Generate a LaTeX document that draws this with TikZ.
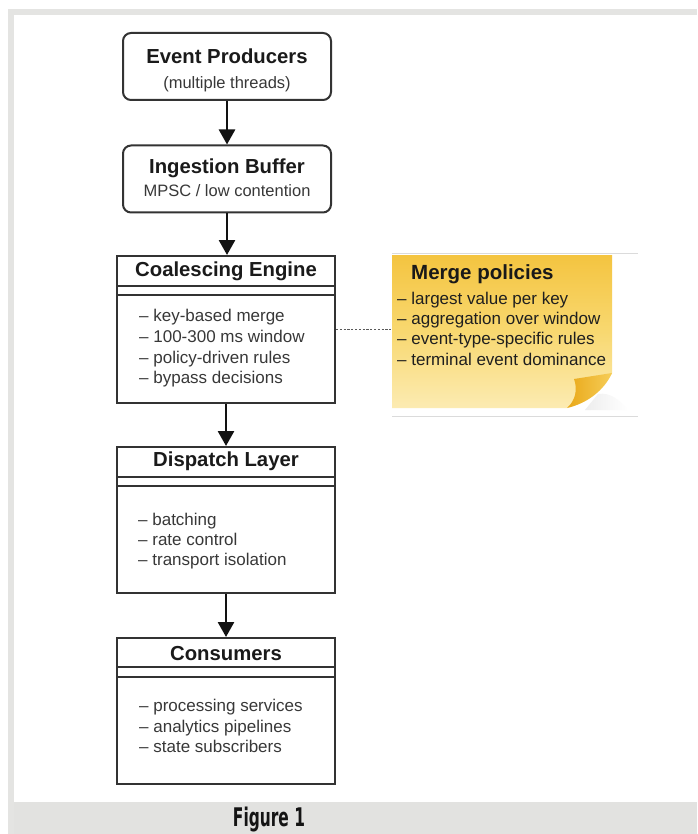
\documentclass[tikz,border=0pt]{standalone}
\usepackage{fontspec}
\setmainfont{Liberation Sans}
\newfontfamily\capfont{DejaVu Sans Condensed}
\usetikzlibrary{arrows.meta}
\definecolor{framegray}{HTML}{E4E4E2}
\definecolor{capgray}{HTML}{E2E2E0}
\definecolor{boxline}{HTML}{333333}
\definecolor{titlecol}{HTML}{1A1A1A}
\definecolor{bodycol}{HTML}{383838}
\definecolor{notetop}{HTML}{F4C440}
\definecolor{notemid}{HTML}{F8D870}
\definecolor{notebot}{HTML}{FCEBB2}
\definecolor{folddark}{HTML}{E9A818}
\definecolor{foldlight}{HTML}{F6CD58}
\tikzset{
  rbox/.style={draw=boxline, line width=2pt, rounded corners=8pt, fill=white, minimum width=208pt, minimum height=67pt, inner sep=0pt},
  sbox/.style={draw=boxline, line width=2pt, fill=white, minimum width=218pt, inner sep=0pt},
  sepline/.style={draw=boxline, line width=1.8pt},
  titletxt/.style={font=\fontsize{20.3}{22}\selectfont\bfseries, text=titlecol, inner sep=0pt, anchor=base},
  subtxt/.style={font=\fontsize{16.5}{18}\selectfont, text=bodycol, inner sep=0pt, anchor=base},
  itemtxt/.style={font=\fontsize{17}{19}\selectfont, text=bodycol, inner sep=0pt, anchor=base west},
  notetitle/.style={font=\fontsize{20.5}{22}\selectfont\bfseries, text=black!90, inner sep=0pt, anchor=base west},
  noteitem/.style={font=\fontsize{17}{19}\selectfont, text=black!88, inner sep=0pt, anchor=base west},
  flowarrow/.style={draw=black!93, line width=2.7pt, -{Triangle[length=15pt,width=16pt]}},
  dotlink/.style={draw=black!65, line width=1.1pt, dash pattern=on 2.2pt off 1.6pt}
}
\begin{document}
\begin{tikzpicture}[x=1pt,y=-1pt]
\useasboundingbox (0,0) rectangle (697,834);
\clip (0,0) rectangle (697,834);
% frame
\fill[white] (0,0) rectangle (697,834);
\fill[framegray] (8,9) rectangle (697,834);
\fill[white] (14,15) rectangle (697,802);
\fill[capgray] (14,802) rectangle (697,834);

% boxes
\node[rbox] (ep) at (227,66.5) {};
\node[titletxt] (ept) at (227,63.3) {Event Producers};
\node[subtxt] (eps) at (227,88.3) {(multiple threads)};

\node[rbox] (ib) at (227,179) {};
\node[titletxt] (ibt) at (227,174) {Ingestion Buffer};
\node[subtxt] (ibs) at (227,196.7) {MPSC / low contention};

\node[sbox, minimum height=147pt] (ce) at (226,329.5) {};
\draw[sepline] ([yshift=-31pt]ce.north west) -- ([yshift=-31pt]ce.north east);
\draw[sepline] ([yshift=-40pt]ce.north west) -- ([yshift=-40pt]ce.north east);
\node[titletxt] (cet) at (226,276) {Coalescing Engine};
\node[itemtxt] (ce1) at (139,321.5) {\textendash\ key-based merge};
\node[itemtxt] (ce2) at (139,342.2) {\textendash\ 100-300 ms window};
\node[itemtxt] (ce3) at (139,363) {\textendash\ policy-driven rules};
\node[itemtxt] (ce4) at (139,383.8) {\textendash\ bypass decisions};

\node[sbox, minimum height=146pt] (dl) at (226,520) {};
\draw[sepline] ([yshift=-31pt]dl.north west) -- ([yshift=-31pt]dl.north east);
\draw[sepline] ([yshift=-40pt]dl.north west) -- ([yshift=-40pt]dl.north east);
\node[titletxt] (dlt) at (226,466.7) {Dispatch Layer};
\node[itemtxt] (dl1) at (138,525) {\textendash\ batching};
\node[itemtxt] (dl2) at (138,545) {\textendash\ rate control};
\node[itemtxt] (dl3) at (138,565.5) {\textendash\ transport isolation};

\node[sbox, minimum height=146pt] (cs) at (226,711) {};
\draw[sepline] ([yshift=-30pt]cs.north west) -- ([yshift=-30pt]cs.north east);
\draw[sepline] ([yshift=-40pt]cs.north west) -- ([yshift=-40pt]cs.north east);
\node[titletxt] (cst) at (226,660.7) {Consumers};
\node[itemtxt] (cs1) at (139,711.7) {\textendash\ processing services};
\node[itemtxt] (cs2) at (139,732.2) {\textendash\ analytics pipelines};
\node[itemtxt] (cs3) at (139,752.7) {\textendash\ state subscribers};

% arrows
\draw[flowarrow] (ep.south) -- (ib.north);
\draw[flowarrow] (ib.south) -- (ib.south |- ce.north);
\draw[flowarrow] (ce.south) -- (dl.north);
\draw[flowarrow] (dl.south) -- (cs.north);

% sticky note
\draw[black!14, line width=0.8pt] (392,253) -- (638,253);
\draw[black!14, line width=0.8pt] (392,416) -- (638,416);
\shade[left color=black!7, right color=white]
  (598,394) .. controls (610,392) and (620,400) .. (628,410) -- (585,410) -- cycle;
\shade[top color=notetop, bottom color=notebot, middle color=notemid]
  (392,255) -- (612,255) -- (612,373) .. controls (604,390) and (588,403) .. (567,408) -- (392,408) -- cycle;
\shade[left color=folddark, right color=foldlight]
  (612,373) -- (574,379) .. controls (578,390) and (575,401) .. (567,408)
  .. controls (588,403) and (604,390) .. (612,373) -- cycle;
\coordinate (noteL) at (392,329.5);
\node[notetitle] (npt) at (411,279.3) {Merge policies};
\node[noteitem] (np1) at (397,304) {\textendash\ largest value per key};
\node[noteitem] (np2) at (397,324.3) {\textendash\ aggregation over window};
\node[noteitem] (np3) at (397,344.6) {\textendash\ event-type-specific rules};
\node[noteitem] (np4) at (397,365) {\textendash\ terminal event dominance};

\draw[dotlink] (ce.east) -- (noteL);

% caption
\node[anchor=base, inner sep=0pt, text=black!92] (cap) at (269,826.5) {\resizebox{72pt}{19.5pt}{\capfont\bfseries Figure 1}};
\end{tikzpicture}
\end{document}
